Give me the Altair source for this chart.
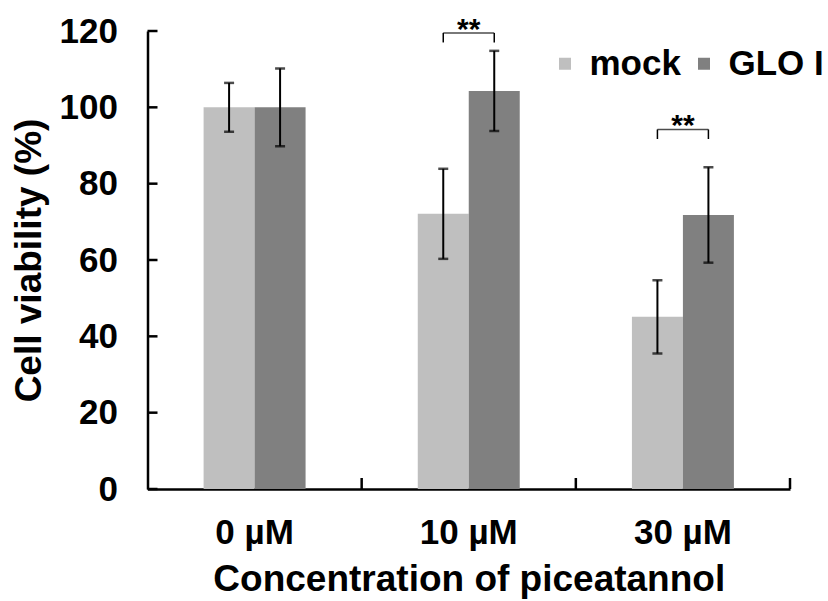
import altair as alt
import pandas as pd

# Cell viability after piceatannol treatment (mean ± SD)
concentrations = ["0 µM", "10 µM", "30 µM"]
groups = ["mock", "GLO I"]
mock_mean = [100.0, 72.1, 45.1]
mock_sd = [6.4, 11.8, 9.6]
glo_mean = [100.0, 104.3, 71.8]
glo_sd = [10.2, 10.5, 12.5]

# Significance brackets (** p < 0.01)
sig_concentrations = ["10 µM", "30 µM"]
sig_top = [119.5, 94.2]
sig_drop = [2.5, 2.5]
sig_label = ["**", "**"]

y_ticks = [0, 20, 40, 60, 80, 100, 120]

FONT = "Liberation Sans, Arial, sans-serif"
BAR_COLORS = ["#bfbfbf", "#808080"]

rows = []
for i, c in enumerate(concentrations):
    rows.append({"conc": c, "group": "mock", "mean": mock_mean[i],
                 "lo": mock_mean[i] - mock_sd[i], "hi": mock_mean[i] + mock_sd[i]})
    rows.append({"conc": c, "group": "GLO I", "mean": glo_mean[i],
                 "lo": glo_mean[i] - glo_sd[i], "hi": glo_mean[i] + glo_sd[i]})
df = pd.DataFrame(rows)

sig_rows = []
for i, c in enumerate(sig_concentrations):
    for g in groups:
        sig_rows.append({"conc": c, "group": g, "top": sig_top[i],
                         "low": sig_top[i] - sig_drop[i], "label": sig_label[i]})
sig_df = pd.DataFrame(sig_rows)
sig_center = pd.DataFrame({"conc": sig_concentrations, "top": sig_top, "label": sig_label})

tick_df = pd.DataFrame({"v": y_ticks})

yscale = alt.Scale(domain=[0, 120], nice=False, zero=True)
xscale = alt.Scale(domain=concentrations, paddingInner=0, paddingOuter=0)
# empty slots either side keep the pair of bars narrow and centred in each category
offscale = alt.Scale(domain=["_pad_l"] + groups + ["_pad_r"], paddingInner=0, paddingOuter=0.1)

x_enc = alt.X(
    "conc:N", scale=xscale, sort=concentrations,
    axis=alt.Axis(
        title="Concentration of piceatannol", labelAngle=0, ticks=False, tickSize=0,
        labelPadding=26, titlePadding=11,
        labelFontSize=35, labelFont=FONT, labelFontWeight="bold", labelColor="black",
        titleFontSize=37, titleFont=FONT, titleFontWeight="bold", titleColor="black",
        domainColor="black", domainWidth=2.5,
    ),
)
y_enc = alt.Y(
    "mean:Q", scale=yscale,
    axis=alt.Axis(
        title="Cell viability (%)", values=y_ticks, ticks=False, tickSize=0, grid=False,
        labelPadding=30, labelFontSize=35, labelFont=FONT, labelFontWeight="bold",
        labelColor="black", titleFontSize=37, titleFont=FONT, titleFontWeight="bold",
        titleColor="black", titleAngle=-90, titleX=-118, titleY=229,
        titleAlign="center", titleBaseline="middle",
        domainColor="black", domainWidth=2.5,
    ),
)

off_enc = alt.XOffset("group:N", scale=offscale)

bars = alt.Chart(df).mark_bar().encode(
    x=x_enc,
    xOffset=off_enc,
    y=y_enc,
    color=alt.Color(
        "group:N", sort=groups, scale=alt.Scale(domain=groups, range=BAR_COLORS),
        legend=alt.Legend(
            orient="none", legendX=400, legendY=15, direction="horizontal", title=None,
            symbolType="square", symbolSize=144, symbolStrokeWidth=0,
            labelFontSize=35, labelFont=FONT, labelFontWeight="bold", labelColor="black",
            columnPadding=5, labelOffset=7, padding=0,
        ),
    ),
)

err = alt.Chart(df).mark_rule(color="black", strokeWidth=2).encode(
    x=alt.X("conc:N", scale=xscale, sort=concentrations),
    xOffset=off_enc,
    y=alt.Y("lo:Q", scale=yscale),
    y2="hi:Q",
)
cap_hi = alt.Chart(df).mark_tick(color="black", size=10, thickness=2.5).encode(
    x=alt.X("conc:N", scale=xscale, sort=concentrations),
    xOffset=off_enc,
    y=alt.Y("hi:Q", scale=yscale),
)
cap_lo = alt.Chart(df).mark_tick(color="black", size=10, thickness=2.5).encode(
    x=alt.X("conc:N", scale=xscale, sort=concentrations),
    xOffset=off_enc,
    y=alt.Y("lo:Q", scale=yscale),
)

# inward tick marks on both axes
y_tick_marks = alt.Chart(tick_df).mark_rule(color="black", strokeWidth=2.5).encode(
    y=alt.Y("v:Q", scale=yscale), x=alt.value(0), x2=alt.value(10),
)
x_tick_start = alt.Chart(pd.DataFrame({"conc": concentrations[1:]})).mark_rule(
    color="black", strokeWidth=2.5
).encode(
    x=alt.X("conc:N", scale=xscale, sort=concentrations, bandPosition=0),
    y=alt.value(458), y2=alt.value(447),
)
x_tick_end = alt.Chart(pd.DataFrame({"conc": concentrations[-1:]})).mark_rule(
    color="black", strokeWidth=2.5
).encode(
    x=alt.X("conc:N", scale=xscale, sort=concentrations, bandPosition=1),
    y=alt.value(458), y2=alt.value(447),
)

# significance brackets
legs = alt.Chart(sig_df).mark_rule(color="black", strokeWidth=1.5).encode(
    x=alt.X("conc:N", scale=xscale, sort=concentrations),
    xOffset=off_enc,
    y=alt.Y("top:Q", scale=yscale),
    y2="low:Q",
)
bridge = alt.Chart(sig_center).mark_tick(color="black", size=51, thickness=1.5).encode(
    x=alt.X("conc:N", scale=xscale, sort=concentrations),
    y=alt.Y("top:Q", scale=yscale),
)
stars = alt.Chart(sig_center).mark_text(
    font=FONT, fontWeight="bold", fontSize=30, color="black",
    align="center", baseline="alphabetic", dy=6,
).encode(
    x=alt.X("conc:N", scale=xscale, sort=concentrations),
    y=alt.Y("top:Q", scale=yscale),
    text="label:N",
)

chart = alt.layer(
    bars, err, cap_hi, cap_lo, y_tick_marks, x_tick_start, x_tick_end, legs, bridge, stars
).properties(
    width=642.5,
    height=458,
    autosize=alt.AutoSizeParams(type="none"),
    padding={"left": 147.5, "top": 31, "right": 38, "bottom": 112},
    background="white",
).configure_view(stroke=None)

chart.save("out.html", embed_options={"renderer": "svg", "actions": False})
